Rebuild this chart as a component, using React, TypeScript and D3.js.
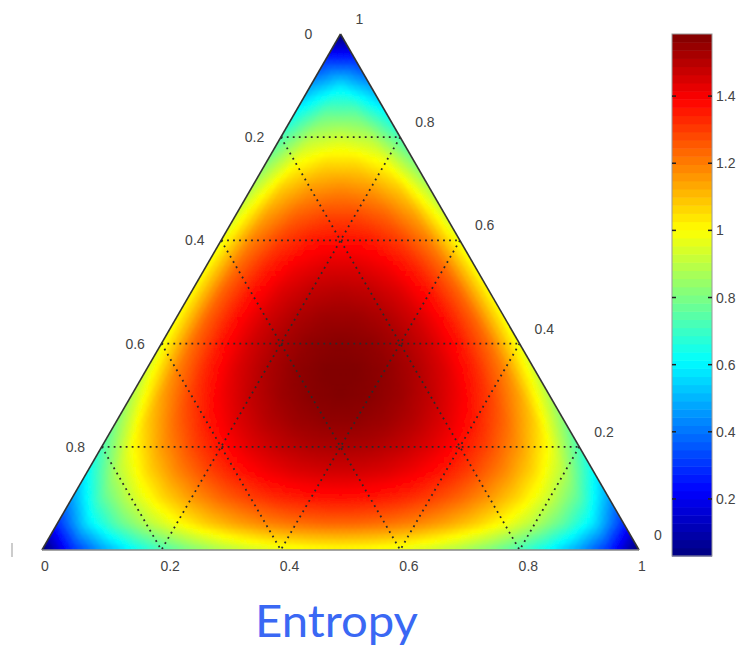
import React, { useMemo } from "react";
import * as d3 from "d3";

// Compositions the entropy surface was sampled on (fraction of each component)
const meshFractions = [
  0, 0.05, 0.1, 0.15, 0.2, 0.25, 0.3, 0.35, 0.4, 0.45, 0.5,
  0.55, 0.6, 0.65, 0.7, 0.75, 0.8, 0.85, 0.9, 0.95, 1,
];
// Dotted grid levels and axis ticks
const gridLevels = [0.2, 0.4, 0.6, 0.8];
const axisTicks = [0, 0.2, 0.4, 0.6, 0.8, 1];
// Colorbar
const colorbarTicks = [0.2, 0.4, 0.6, 0.8, 1, 1.2, 1.4];
const colorRange = [0.03, 1.585];
const title = "Entropy";

// Layout
const W = 751;
const H = 647;
const tri = { left: 42, right: 639, top: 34, bottom: 550 };
const bar = { x: 672, w: 40, top: 34, bottom: 556 };
const SUB = 5; // fine triangles per mesh cell edge
const font = "'Liberation Sans', Arial, sans-serif";

const entropy = (ps: number[]) =>
  -d3.sum(ps, (p) => (p > 0 ? p * Math.log2(p) : 0));

// MATLAB style jet colormap
const jet = (x: number) => {
  const c = (v: number) => Math.round(255 * Math.max(0, Math.min(1, v)));
  return `rgb(${c(1.5 - Math.abs(4 * x - 3))},${c(1.5 - Math.abs(4 * x - 2))},${c(
    1.5 - Math.abs(4 * x - 1)
  )})`;
};

export default function App() {
  const xs = d3.scaleLinear().domain([0, 1]).range([tri.left, tri.right]);
  const ys = d3.scaleLinear().domain([0, 1]).range([tri.bottom, tri.top]);
  const norm = d3.scaleLinear().domain(colorRange).range([0, 1]).clamp(true);
  const cb = d3.scaleLinear().domain(colorRange).range([bar.bottom, bar.top]);

  // l = left component, r = bottom-right component, t = top component
  const pos = (l: number, r: number): [number, number] => {
    const t = 1 - l - r;
    return [xs(r + t / 2), ys(t)];
  };

  const cells = useMemo(() => {
    const n = meshFractions.length - 1;
    const node = (i: number, j: number) => {
      const l = meshFractions[i];
      const r = meshFractions[j];
      return entropy([l, r, Math.max(0, 1 - l - r)]);
    };
    // linear (gouraud) interpolation inside each mesh triangle
    const valueAt = (L: number, R: number) => {
      const i0 = Math.floor(L);
      const j0 = Math.floor(R);
      const fu = L - i0;
      const fv = R - j0;
      if (fu + fv <= 1) {
        return (1 - fu - fv) * node(i0, j0) + fu * node(i0 + 1, j0) + fv * node(i0, j0 + 1);
      }
      return (
        (fu + fv - 1) * node(i0 + 1, j0 + 1) +
        (1 - fu) * node(i0, j0 + 1) +
        (1 - fv) * node(i0 + 1, j0)
      );
    };
    const M = n * SUB;
    const out: { d: string; fill: string }[] = [];
    const line = d3.line();
    for (let i = 0; i < M; i++) {
      for (let j = 0; i + j < M; j++) {
        const up = [
          pos(i / M, j / M),
          pos((i + 1) / M, j / M),
          pos(i / M, (j + 1) / M),
        ];
        const v1 = valueAt((i + 1 / 3) / SUB, (j + 1 / 3) / SUB);
        out.push({ d: line(up) + "Z", fill: jet(norm(v1)) });
        if (i + j < M - 1) {
          const dn = [
            pos((i + 1) / M, j / M),
            pos(i / M, (j + 1) / M),
            pos((i + 1) / M, (j + 1) / M),
          ];
          const v2 = valueAt((i + 2 / 3) / SUB, (j + 2 / 3) / SUB);
          out.push({ d: line(dn) + "Z", fill: jet(norm(v2)) });
        }
      }
    }
    return out;
  }, []);

  const apex = pos(0, 0);
  const bl = pos(1, 0);
  const br = pos(0, 1);
  const triPath = `M${apex}L${bl}L${br}Z`;

  const bands = d3.range(64);

  return (
    <svg
      width={W}
      height={H}
      style={{ position: "absolute", left: 0, top: 0, background: "#fff" }}
    >
      <defs>
        <clipPath id="tri">
          <path d={triPath} />
        </clipPath>
        <filter id="soft" x="-5%" y="-5%" width="110%" height="110%">
          <feGaussianBlur stdDeviation="1.5" />
        </filter>
      </defs>

      {/* surface: sharp layer underneath, softened copy on top */}
      <g clipPath="url(#tri)">
        <g id="field">
          {cells.map((c, k) => (
            <path key={k} d={c.d} fill={c.fill} stroke={c.fill} strokeWidth={0.7} />
          ))}
        </g>
        <use href="#field" filter="url(#soft)" />
      </g>

      {/* dotted grid */}
      <g stroke="#2a2a2a" strokeWidth={1.8} strokeDasharray="1.8 4.2" fill="none">
        {gridLevels.map((v) => {
          const h = [pos(v, 0), pos(0, v)]; // constant t = 1 - v
          const cl = [pos(v, 0), pos(v, 1 - v)]; // constant l
          const cr = [pos(0, v), pos(1 - v, v)]; // constant r
          return (
            <g key={v}>
              <line x1={h[0][0]} y1={h[0][1]} x2={h[1][0]} y2={h[1][1]} />
              <line x1={cl[0][0]} y1={cl[0][1]} x2={cl[1][0]} y2={cl[1][1]} />
              <line x1={cr[0][0]} y1={cr[0][1]} x2={cr[1][0]} y2={cr[1][1]} />
            </g>
          );
        })}
      </g>

      {/* outline */}
      <line x1={apex[0]} y1={apex[1]} x2={bl[0]} y2={bl[1]} stroke="#333" strokeWidth={1.6} />
      <line x1={apex[0]} y1={apex[1]} x2={br[0]} y2={br[1]} stroke="#333" strokeWidth={1.6} />
      <line x1={bl[0]} y1={bl[1]} x2={br[0]} y2={br[1]} stroke="#888" strokeWidth={1.6} />
      <line x1={12} y1={543} x2={12} y2={557} stroke="#bbb" strokeWidth={1.5} />

      {/* axis labels */}
      <g fontFamily={font} fontSize={14} fill="#444">
        {axisTicks.map((v) => {
          const [bx, by] = pos(1 - v, v);
          return (
            <text key={"b" + v} x={bx - 1} y={by + 21}>
              {String(v)}
            </text>
          );
        })}
        {axisTicks.slice(0, 5).map((v) => {
          const [lx, ly] = pos(v, 0);
          return (
            <text key={"l" + v} x={lx - 36} y={ly + 5}>
              {String(v)}
            </text>
          );
        })}
        {axisTicks.map((v) => {
          const [rx, ry] = pos(0, 1 - v);
          return (
            <text key={"r" + v} x={rx + 15} y={ry - 10}>
              {String(v)}
            </text>
          );
        })}
      </g>

      {/* colorbar */}
      <g>
        {bands.map((k) => {
          const v0 = colorRange[0] + ((colorRange[1] - colorRange[0]) * k) / 64;
          const v1 = colorRange[0] + ((colorRange[1] - colorRange[0]) * (k + 1)) / 64;
          return (
            <rect
              key={k}
              x={bar.x}
              y={cb(v1)}
              width={bar.w}
              height={cb(v0) - cb(v1) + 0.5}
              fill={jet((k + 0.5) / 64)}
            />
          );
        })}
        <rect
          x={bar.x}
          y={bar.top}
          width={bar.w}
          height={bar.bottom - bar.top}
          fill="none"
          stroke="#999"
          strokeWidth={1}
        />
        {colorbarTicks.map((v) => (
          <g key={v}>
            <line x1={bar.x} x2={bar.x + 4} y1={cb(v)} y2={cb(v)} stroke="#222" strokeWidth={1.5} />
            <line
              x1={bar.x + bar.w - 4}
              x2={bar.x + bar.w}
              y1={cb(v)}
              y2={cb(v)}
              stroke="#222"
              strokeWidth={1.5}
            />
            <text x={bar.x + bar.w + 4} y={cb(v) + 5} fontFamily={font} fontSize={14} fill="#444">
              {String(v)}
            </text>
          </g>
        ))}
      </g>

      {/* title */}
      <text
        x={336.5}
        y={637}
        textAnchor="middle"
        fontFamily="Lato, 'Open Sans', sans-serif"
        fontSize={45}
        fill="#3a68f4"
        textLength={163}
        lengthAdjust="spacingAndGlyphs"
      >
        {title}
      </text>
    </svg>
  );
}
